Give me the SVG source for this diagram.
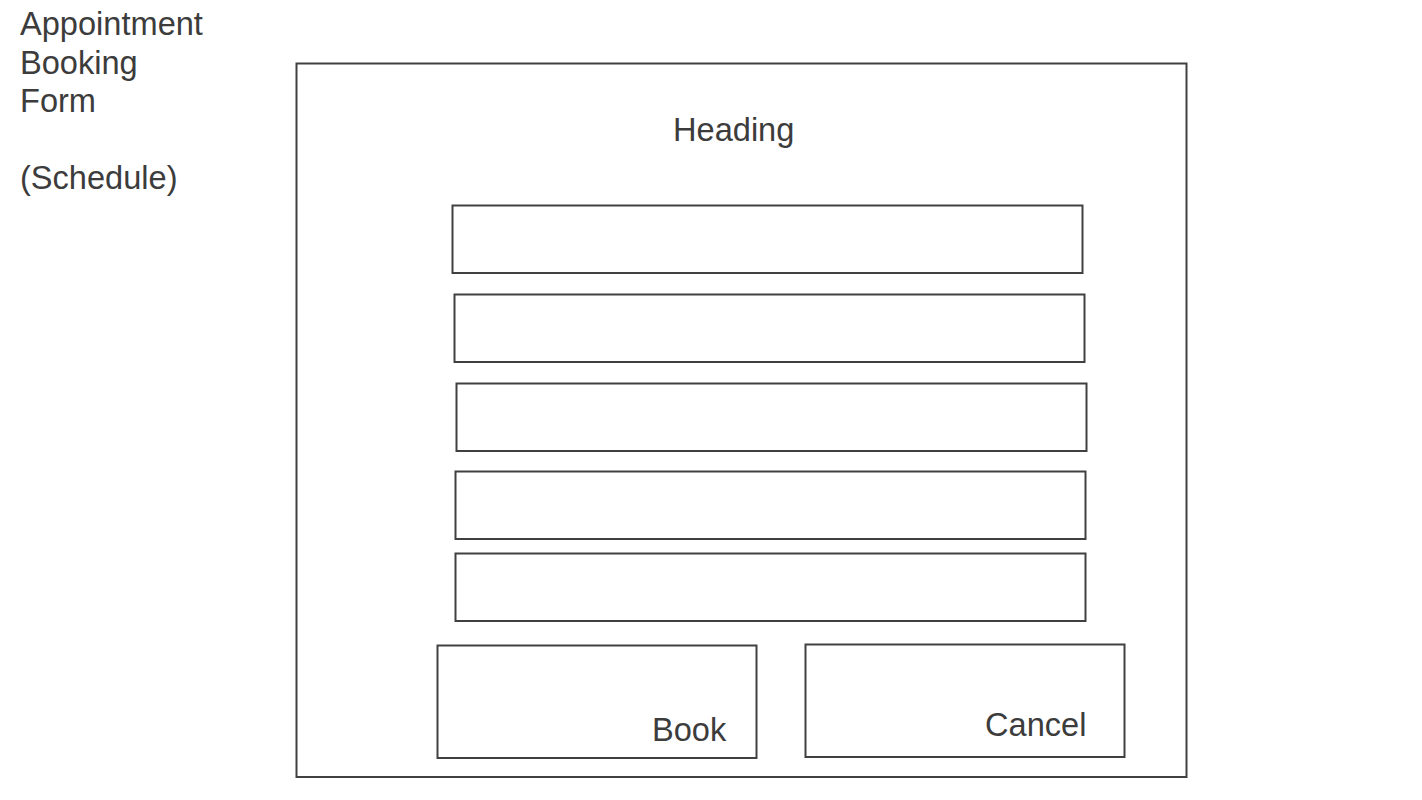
<svg xmlns="http://www.w3.org/2000/svg" width="1422" height="800" viewBox="0 0 1422 800">
<style>
.box{fill:#ffffff;stroke:#404040;stroke-width:2}
.t{font-family:"Liberation Sans",Arial,sans-serif;font-size:32.6px;fill:#3c3c3c}
</style>
<rect width="1422" height="800" fill="#ffffff"/>
<g id="title">
<text class="t" x="20" y="35">Appointment</text>
<text class="t" x="20" y="73.5">Booking</text>
<text class="t" x="20" y="111.5">Form</text>
<text class="t" x="20" y="188.5">(Schedule)</text>
</g>
<g id="form">
<rect class="box" x="296.5" y="63.5" width="890" height="713.5"/>
<text class="t" x="673" y="141">Heading</text>
</g>
<g id="field1"><rect class="box" x="452.5" y="205.5" width="630" height="67.5"/></g>
<g id="field2"><rect class="box" x="454.5" y="294.5" width="630" height="67.5"/></g>
<g id="field3"><rect class="box" x="456.5" y="383.5" width="630" height="67.5"/></g>
<g id="field4"><rect class="box" x="455.5" y="471.5" width="630" height="67.5"/></g>
<g id="field5"><rect class="box" x="455.5" y="553.5" width="630" height="67.5"/></g>
<g id="book">
<rect class="box" x="437.5" y="645.5" width="319" height="112.5"/>
<text class="t" x="652" y="741">Book</text>
</g>
<g id="cancel">
<rect class="box" x="805.5" y="644.5" width="319" height="112.5"/>
<text class="t" x="985" y="736">Cancel</text>
</g>
<g id="connectors"></g>
</svg>
